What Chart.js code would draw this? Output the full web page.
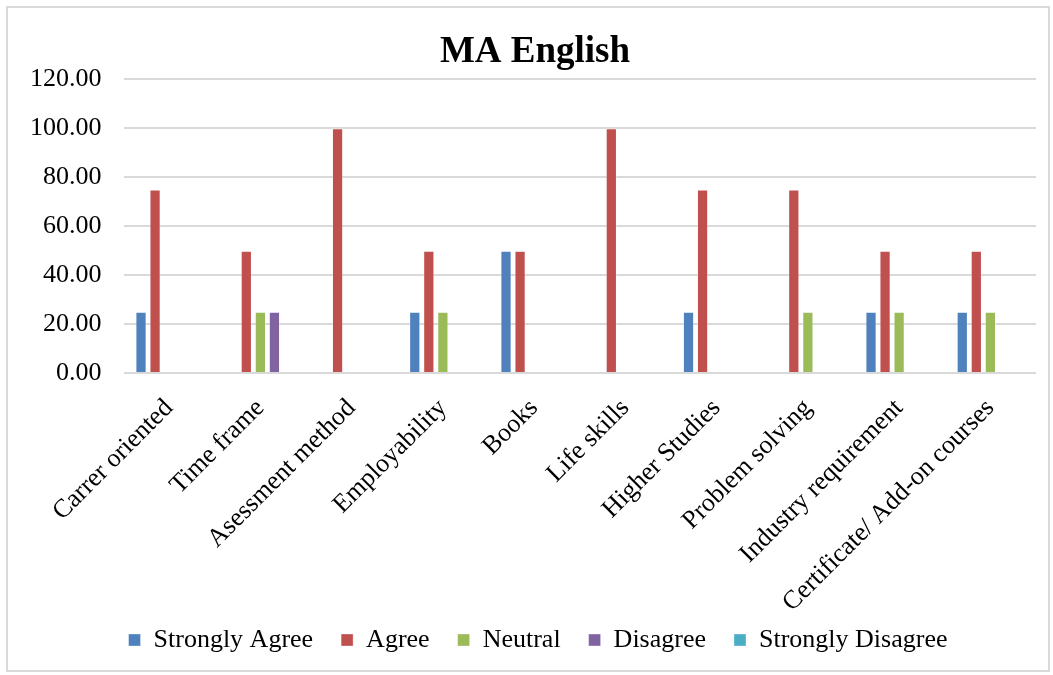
<!DOCTYPE html>
<html>
<head>
<meta charset="utf-8">
<script src="https://cdn.jsdelivr.net/npm/chart.js@4"></script>
<style>
  html, body { margin: 0; padding: 0; background: #fff; }
  #wrap {
    position: absolute; left: 6px; top: 6px;
    width: 1040px; height: 662px;
    border: 2px solid #d9d9d9; background: #fff;
  }
</style>
</head>
<body>
<div id="wrap"><canvas id="chart"></canvas></div>
<script>
// categories and series
const categories = [
  "Carrer oriented", "Time frame", "Asessment method", "Employability", "Books",
  "Life skills", "Higher Studies", "Problem solving", "Industry requirement",
  "Certificate/ Add-on courses"
];
const stronglyAgree    = [25, 0, 0, 25, 50, 0, 25, 0, 25, 25];
const agree            = [75, 50, 100, 50, 50, 100, 75, 75, 50, 50];
const neutral          = [0, 25, 0, 25, 0, 0, 0, 25, 25, 25];
const disagree         = [0, 25, 0, 0, 0, 0, 0, 0, 0, 0];
const stronglyDisagree = [0, 0, 0, 0, 0, 0, 0, 0, 0, 0];

const font = "'Liberation Serif', 'Times New Roman', serif";

function ds(label, data, color) {
  return {
    label: label,
    data: data,
    backgroundColor: color,
    borderColor: "rgba(255,255,255,0.35)",
    borderWidth: 1,
    categoryPercentage: 0.77,
    barPercentage: 0.8
  };
}

// legend sits close under the rotated labels, like in the original
const legendTighten = {
  id: "legendTighten",
  beforeInit(chart) {
    const fit = chart.legend.fit;
    chart.legend.fit = function () {
      fit.call(this);
      this.height = 35;
    };
  },
  afterLayout(chart) {
    const lg = chart.legend;
    lg.top -= 36;
    lg.bottom = lg.top + 80; // keep the clip box big enough for the text
    lg.left += 16;
    lg.right += 16;
    const tt = chart.titleBlock;
    if (tt) {
      tt.left += 13;
      tt.right += 13;
    }
  }
};

const chart = new Chart(document.getElementById("chart"), {
  type: "bar",
  data: {
    labels: categories,
    datasets: [
      ds("Strongly Agree", stronglyAgree, "#4F81BD"),
      ds("Agree", agree, "#C0504D"),
      ds("Neutral", neutral, "#9BBB59"),
      ds("Disagree", disagree, "#8064A2"),
      ds("Strongly Disagree", stronglyDisagree, "#4BACC6")
    ]
  },
  plugins: [legendTighten],
  options: {
    responsive: true,
    maintainAspectRatio: false,
    animation: false,
    layout: { padding: { left: 0, right: 12, top: 8, bottom: 0 } },
    plugins: {
      title: {
        display: true,
        text: "MA English",
        color: "#000",
        font: { family: font, size: 37, weight: "bold" },
        padding: { top: 14, bottom: 5 }
      },
      legend: {
        position: "bottom",
        labels: {
          color: "#000",
          font: { family: font, size: 26 },
          boxWidth: 12,
          boxHeight: 12,
          padding: 28
        }
      },
      tooltip: { enabled: false }
    },
    scales: {
      y: {
        min: 0,
        max: 120,
        ticks: {
          stepSize: 20,
          color: "#000",
          font: { family: font, size: 26 },
          padding: 22,
          callback: (v) => v.toFixed(2)
        },
        grid: { color: "#d9d9d9", lineWidth: 2, drawTicks: false },
        border: { display: false }
      },
      x: {
        afterFit: (scale) => { scale.height = 262; },
        ticks: {
          color: "#000",
          font: { family: font, size: 26 },
          minRotation: 45,
          maxRotation: 45,
          padding: 12
        },
        grid: { display: false },
        border: { display: false }
      }
    }
  }
});
</script>
</body>
</html>
